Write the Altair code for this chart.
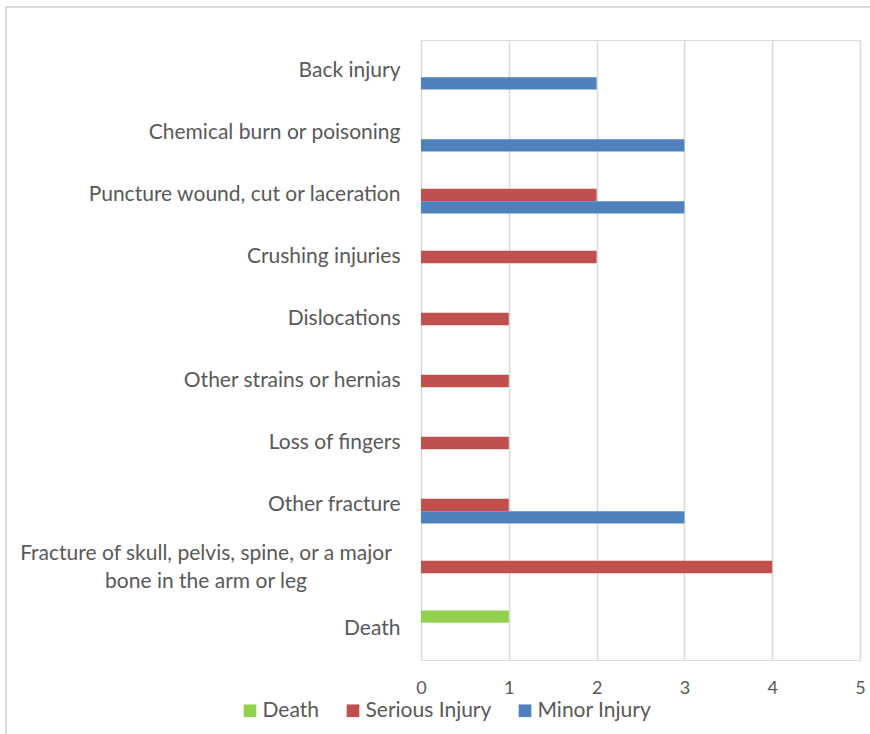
import altair as alt
import pandas as pd

categories = [
    "Back injury",
    "Chemical burn or poisoning",
    "Puncture wound, cut or laceration",
    "Crushing injuries",
    "Dislocations",
    "Other strains or hernias",
    "Loss of fingers",
    "Other fracture",
    "Fracture of skull, pelvis, spine, or a major bone in the arm or leg",
    "Death",
]
death = [0, 0, 0, 0, 0, 0, 0, 0, 0, 1]
serious = [0, 0, 2, 2, 1, 1, 1, 1, 4, 0]
minor = [2, 3, 3, 0, 0, 0, 0, 3, 0, 0]
series = ["Death", "Serious Injury", "Minor Injury"]
colors = ["#92D050", "#C0504D", "#4F81BD"]
long_label = "Fracture of skull, pelvis, spine, or a major\nbone in the arm or leg"

rows = []
for i, c in enumerate(categories):
    for s, vals in zip(series, [death, serious, minor]):
        if vals[i] > 0:
            rows.append({"cat": c, "series": s, "value": vals[i]})
df = pd.DataFrame(rows)

FONT = "Lato"
GRAY = "#595959"

yscale = alt.Scale(domain=categories, paddingInner=0.4, paddingOuter=0.2)

bars = alt.Chart(df).mark_bar().encode(
    x=alt.X("value:Q", scale=alt.Scale(domain=[0, 5]),
            axis=alt.Axis(values=[0, 1, 2, 3, 4, 5], title=None, grid=True,
                          gridColor="#d9d9d9", gridWidth=1.5, domain=False,
                          ticks=False, labelFont=FONT, labelFontSize=18,
                          labelColor=GRAY, labelPadding=19, labelFlush=False)),
    y=alt.Y("cat:N", scale=yscale, sort=categories,
            axis=alt.Axis(title=None, domain=False, ticks=False, grid=False,
                          labelFont=FONT, labelFontSize=21, labelColor=GRAY,
                          labelPadding=21, labelLimit=1000,
                          labelExpr="substring(datum.value, 0, 17) == 'Fracture of skull' ? '' : datum.value")),
    yOffset=alt.YOffset("series:N", scale=alt.Scale(domain=series, paddingInner=0, paddingOuter=0)),
    color=alt.Color("series:N", scale=alt.Scale(domain=series, range=colors),
                    legend=alt.Legend(title=None, orient="none", direction="horizontal",
                                      legendX=-181.5, legendY=660, symbolType="square",
                                      symbolSize=160, symbolStrokeWidth=0,
                                      labelFont=FONT, labelFontSize=21, labelColor=GRAY,
                                      columnPadding=23, labelOffset=2, padding=0)),
)

lab_df = pd.DataFrame({"cat": [categories[8]], "label": [long_label]})
long_text = alt.Chart(lab_df).mark_text(
    align="center", baseline="middle", font=FONT, fontSize=21, color=GRAY,
    lineBreak="\n", lineHeight=28, dy=-13,
).encode(
    y=alt.Y("cat:N", scale=yscale, sort=categories),
    x=alt.value(-215),
    text="label:N",
)

frame_df = pd.DataFrame({"a": [0]})
frame_v = alt.Chart(frame_df).mark_rule(color="#d9d9d9", strokeWidth=2).encode(
    x=alt.value(-415), y=alt.value(-33), y2=alt.value(700))
frame_h = alt.Chart(frame_df).mark_rule(color="#d9d9d9", strokeWidth=2).encode(
    x=alt.value(-415), x2=alt.value(460), y=alt.value(-33))

chart = alt.layer(frame_v, frame_h, bars, long_text).properties(
    width=439, height=620,
    autosize=alt.AutoSizeParams(type="none"),
    padding={"left": 421, "top": 40, "right": 10, "bottom": 74},
).configure_view(stroke=None).configure(background="white")

chart.save("out.html", embed_options={"renderer": "svg", "actions": False})
